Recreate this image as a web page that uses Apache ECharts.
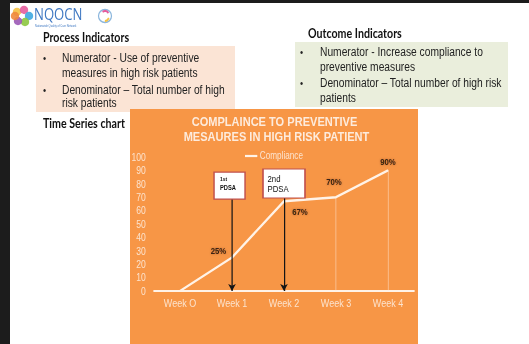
<!DOCTYPE html>
<html>
<head>
<meta charset="utf-8">
<script src="https://cdn.jsdelivr.net/npm/echarts@6/dist/echarts.min.js"></script>
<style>
html,body{margin:0;padding:0;overflow:hidden;background:#fff;width:529px;height:344px}
#main{width:645px;height:344px;transform:scaleX(0.820155);transform-origin:0 0}
</style>
</head>
<body>
<div id="main"></div>
<script>
// ---- data ----
const categories = ['Week O', 'Week 1', 'Week 2', 'Week 3', 'Week 4'];
const compliance = [0, 25, 67, 70, 90];
const yTickLabels = ['0','10','20','30','40','50','60','70','80','90','100'];
const pdsaNames = ['1st', '2nd'];
const pdsaWeeks = ['Week 1', 'Week 2'];
const dropLineWeeks = ['Week 3', 'Week 4'];
const chartTitle = ['COMPLAINCE TO PREVENTIVE', 'MESAURES IN HIGH RISK PATIENT'];
const seriesName = 'Compliance';
const processTitle = 'Process Indicators';
const processLines = ['Numerator - Use of preventive', 'measures in high risk patients', 'Denominator \u2013 Total number of high', 'risk patients'];
const outcomeTitle = 'Outcome Indicators';
const outcomeLines = ['Numerator - Increase compliance to', 'preventive measures', 'Denominator \u2013 Total number of high risk', 'patients'];
const sectionTitle = 'Time Series chart';
const logoText = 'NQOCN';
const logoSub = 'Nationwide Quality of Care Network';

// ---- layout helpers (page is drawn wide, then squeezed horizontally) ----
const K = 529 / 645;
const px = x => x / K;

// annotation anchors in data units (box centre / box bottom)
const pdsaBoxCenter = [78.7, 80.2];
const pdsaBoxBottom = [68.7, 69.4];

const labelOffsets = [[0,0], [-16.5,-7], [19.5,10.5], [-2.5,-15], [0,-9]];

const chart = echarts.init(document.getElementById('main'), null, {renderer: 'svg', width: 645, height: 344});

const bodyFont = 'Liberation Sans, Arial, sans-serif';
const headFont = 'Lato, Liberation Sans, sans-serif';
const pale = '#FCE3CE';

function textEl(x, y, text, opts) {
  return {
    type: 'text', x: x, y: y,
    style: Object.assign({text: text, fill: '#222', fontSize: 12.5, fontFamily: bodyFont, align: 'left', verticalAlign: 'middle'}, opts || {})
  };
}

const graphics = [];
// dark screen border
graphics.push({type:'rect', shape:{x:0,y:0,width:px(10),height:344}, style:{fill:'#1c1c1c'}});
graphics.push({type:'rect', shape:{x:0,y:0,width:645,height:3}, style:{fill:'#1c1c1c'}});
// logo flower
[[17,12,'#F5C242'],[24,10,'#E45C9C'],[29,16,'#3FA9E0'],[25,22,'#8CC63F'],[18,21,'#9B59B6'],[15,16,'#F08A3C']].forEach(p => {
  graphics.push({type:'ellipse', shape:{cx:px(p[0]), cy:p[1], rx:px(4.2), ry:4.2}, style:{fill:p[2], opacity:0.9}});
});
graphics.push({type:'ellipse', shape:{cx:px(22), cy:16, rx:px(2.5), ry:2.5}, style:{fill:'#fff'}});
graphics.push(textEl(px(34), 13, logoText, {fill:'#3F78C2', fontSize:16, fontFamily:'Open Sans, Liberation Sans, sans-serif', lineHeight:16}));
graphics.push(textEl(px(35), 26, logoSub, {fill:'#3F78C2', fontSize:3.2, lineHeight:3.5}));
graphics.push({type:'ellipse', shape:{cx:px(105), cy:16, rx:px(6.5), ry:6.5}, style:{fill:'none', stroke:'#8DB7DD', lineWidth:1.5}});
graphics.push({type:'arc', shape:{cx:px(105), cy:16, r:5, startAngle:-2.2, endAngle:-0.6}, style:{stroke:'#E45C9C', lineWidth:2, fill:'none'}});
graphics.push({type:'arc', shape:{cx:px(105), cy:16, r:5, startAngle:0.4, endAngle:1.6}, style:{stroke:'#F5C242', lineWidth:2, fill:'none'}});

// process indicators
graphics.push(textEl(px(43), 37, processTitle, {fill:'#111', fontSize:13, fontWeight:'bold', fontFamily:headFont}));
graphics.push({type:'rect', shape:{x:px(36), y:46, width:px(235)-px(36), height:66}, style:{fill:'#FBE4D5'}});
[58, 72.5, 90, 103].forEach((y, i) => graphics.push(textEl(px(62), y, processLines[i])));
[58, 90].forEach(y => graphics.push(textEl(px(43), y, '\u2022', {fontSize:11})));

// outcome indicators
graphics.push(textEl(px(308), 33, outcomeTitle, {fill:'#111', fontSize:13, fontWeight:'bold', fontFamily:headFont}));
graphics.push({type:'rect', shape:{x:px(295), y:42, width:px(508)-px(295), height:65}, style:{fill:'#EAEEDC'}});
[52, 67, 83, 98].forEach((y, i) => graphics.push(textEl(px(320), y, outcomeLines[i])));
[52, 83].forEach(y => graphics.push(textEl(px(300), y, '\u2022', {fontSize:11})));

// time series heading
graphics.push(textEl(px(43), 123, sectionTitle, {fill:'#111', fontSize:13, fontWeight:'bold', fontFamily:headFont}));

// orange chart panel
graphics.push({type:'rect', shape:{x:px(130), y:109, width:px(418)-px(130), height:235}, style:{fill:'#F79646'}});
// chart title (two lines)
graphics.push({type:'text', x:px(274.5), y:122, style:{text: chartTitle[0], fill:'#FDEBDC', fontSize:13.5, fontWeight:'bold', fontFamily:bodyFont, align:'center', verticalAlign:'middle'}});
graphics.push({type:'text', x:px(276.5), y:136.5, style:{text: chartTitle[1], fill:'#FDEBDC', fontSize:13.5, fontWeight:'bold', fontFamily:bodyFont, align:'center', verticalAlign:'middle'}});

const option = {
  backgroundColor: '#ffffff',
  animation: false,
  graphic: {elements: graphics},
  legend: {
    data: [seriesName], left: px(245), top: 151, padding: 0,
    icon: 'rect', itemWidth: 15, itemHeight: 2.2,
    textStyle: {color: pale, fontSize: 10, fontFamily: bodyFont, padding: [0,0,0,-2]}
  },
  grid: {left: px(154), right: 645 - px(414), top: 157, bottom: 53, containLabel: false},
  xAxis: {
    type: 'category', data: categories, boundaryGap: true,
    axisLine: {lineStyle: {color: '#FFF3E8', width: 2}},
    axisTick: {show: false},
    axisLabel: {color: pale, fontSize: 11, fontFamily: bodyFont, margin: 7}
  },
  yAxis: {
    type: 'value', min: 0, max: 100, interval: 10,
    axisLine: {show: false}, axisTick: {show: false}, splitLine: {show: false},
    axisLabel: {color: pale, fontSize: 10.5, fontFamily: bodyFont, margin: 10,
      formatter: (v) => yTickLabels[Math.round(v / 10)]}
  },
  series: [
    {
      name: seriesName, type: 'line', z: 3,
      symbol: 'circle', symbolSize: 1,
      itemStyle: {color: '#FFF3E8'},
      lineStyle: {color: '#FFF3E8', width: 2.5},
      label: {
        show: true, position: 'inside', formatter: '{c}%',
        color: '#3a2412', fontSize: 9.5, fontWeight: 'bold', fontFamily: bodyFont,
        textShadowColor: 'rgba(70,30,0,0.35)', textShadowBlur: 2
      },
      data: compliance.map((v, i) => ({
        value: v,
        label: i === 0 ? {show: false} : {show: true, offset: labelOffsets[i]}
      })),
      markLine: {
        silent: true, symbol: ['none', 'none'], label: {show: false},
        lineStyle: {color: 'rgba(255,238,222,0.5)', width: 1, type: 'solid'},
        data: dropLineWeeks.map(w => [
          {coord: [w, compliance[categories.indexOf(w)]]},
          {coord: [w, 0]}
        ])
      }
    },
    {
      name: 'PDSA', type: 'line', z: 5, data: [],
      markLine: {
        silent: true, symbol: ['none', 'arrow'], symbolSize: 7, label: {show: false},
        lineStyle: {color: '#151515', width: 1.5, type: 'solid'},
        data: pdsaWeeks.map((w, i) => [{coord: [w, pdsaBoxBottom[i]]}, {coord: [w, 0]}])
      },
      markPoint: {
        silent: true,
        data: [
          {
            coord: [pdsaWeeks[0], pdsaBoxCenter[0]], symbol: 'rect',
            symbolSize: [px(31), 27], symbolOffset: [-3, 0],
            itemStyle: {color: '#ffffff', borderColor: '#C0504D', borderWidth: 1.5},
            label: {show: true, position: [px(6.7), 2.5], align: 'left', verticalAlign: 'top',
              formatter: '{a|' + pdsaNames[0] + '}\n{b|PDSA}',
              rich: {a: {fontSize: 6, fontWeight: 'bold', color: '#111', lineHeight: 9, fontFamily: bodyFont},
                     b: {fontSize: 7, fontWeight: 'bold', color: '#111', lineHeight: 9, fontFamily: bodyFont}}}
          },
          {
            coord: [pdsaWeeks[1], pdsaBoxCenter[1]], symbol: 'rect',
            symbolSize: [px(42), 29], symbolOffset: [0, 0],
            itemStyle: {color: '#ffffff', borderColor: '#C0504D', borderWidth: 1.5},
            label: {show: true, position: [px(5.3), 4.5], align: 'left', verticalAlign: 'top',
              formatter: '{a|' + pdsaNames[1] + '}\n{a|PDSA}',
              rich: {a: {fontSize: 9.5, color: '#111', lineHeight: 10.5, fontFamily: bodyFont}}}
          }
        ]
      }
    }
  ]
};
chart.setOption(option);
</script>
</body>
</html>
